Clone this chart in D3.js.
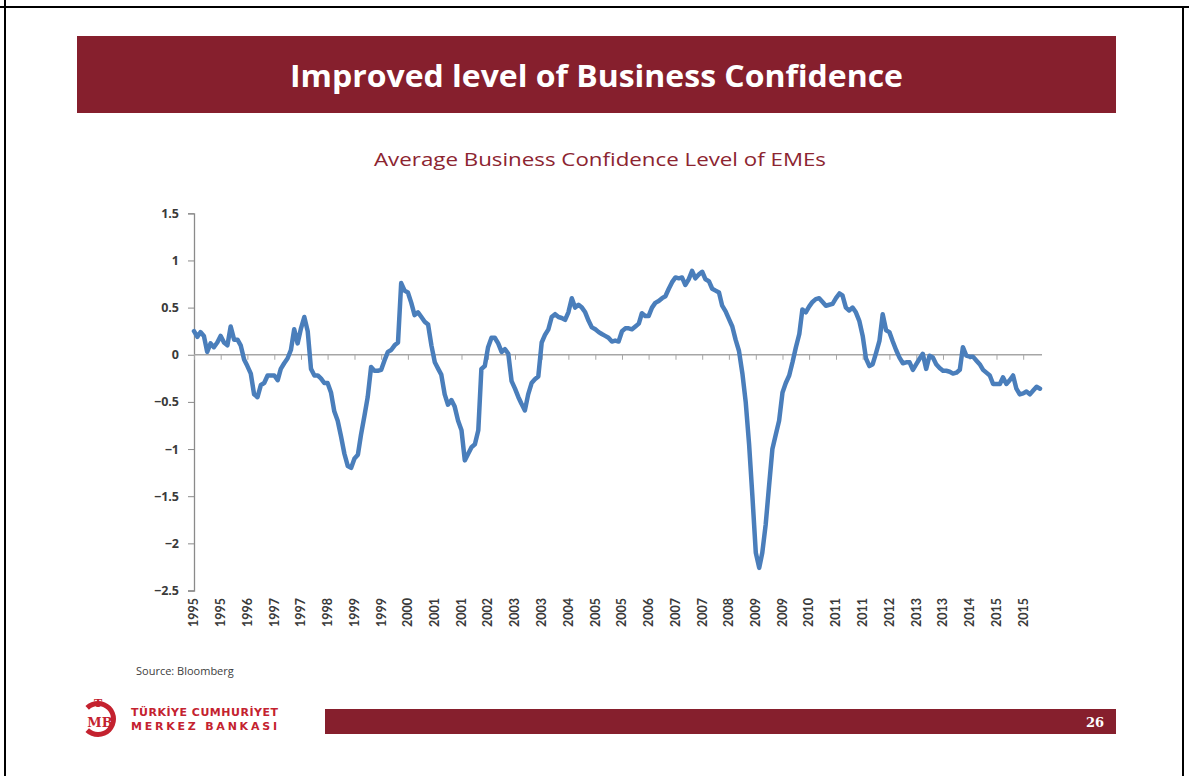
<html>
<head>
<meta charset="utf-8">
<title>Improved level of Business Confidence</title>
<script src="https://d3js.org/d3.v7.min.js"></script>
<style>
body { margin:0; background:#fff; }
text { font-family: Lato, "Open Sans", sans-serif; }
</style>
</head>
<body>
<div id="slide"></div>
<script>
// monthly values, Jan 1995 onwards
var firstMonth = [1995, 0];
var bc1995_1998 = [
  0.25, 0.19, 0.24, 0.2, 0.03, 0.12, 0.08, 0.13, 0.2, 0.13, 0.1, 0.3,
  0.16, 0.16, 0.1, -0.05, -0.12, -0.2, -0.42, -0.45, -0.32, -0.3, -0.22, -0.22,
  -0.22, -0.27, -0.15, -0.09, -0.04, 0.05, 0.27, 0.12, 0.28, 0.4, 0.25, -0.15,
  -0.22, -0.22, -0.25, -0.3, -0.3, -0.4, -0.6, -0.7, -0.87, -1.05, -1.18, -1.2
];
var bc1999_2002 = [
  -1.1, -1.06, -0.85, -0.65, -0.45, -0.13, -0.17, -0.17, -0.16, -0.06, 0.03, 0.05,
  0.1, 0.13, 0.76, 0.68, 0.66, 0.55, 0.42, 0.45, 0.4, 0.35, 0.32, 0.1,
  -0.08, -0.15, -0.21, -0.42, -0.53, -0.48, -0.55, -0.7, -0.8, -1.12, -1.05, -0.98,
  -0.95, -0.8, -0.15, -0.12, 0.08, 0.18, 0.18, 0.12, 0.03, 0.06, 0.01, -0.28
];
var bc2003_2006 = [
  -0.36, -0.45, -0.52, -0.59, -0.42, -0.3, -0.26, -0.23, 0.13, 0.21, 0.27, 0.4,
  0.43, 0.4, 0.39, 0.37, 0.45, 0.6, 0.5, 0.53, 0.5, 0.45, 0.36, 0.29,
  0.27, 0.24, 0.22, 0.2, 0.18, 0.14, 0.15, 0.14, 0.25, 0.28, 0.28, 0.27,
  0.3, 0.33, 0.44, 0.41, 0.41, 0.5, 0.55, 0.57, 0.6, 0.62, 0.7, 0.77
];
var bc2007_2010 = [
  0.82, 0.81, 0.82, 0.74, 0.8, 0.89, 0.81, 0.85, 0.88, 0.8, 0.78, 0.7,
  0.68, 0.66, 0.52, 0.46, 0.38, 0.3, 0.16, 0.04, -0.2, -0.5, -0.95, -1.5,
  -2.1, -2.26, -2.1, -1.8, -1.4, -1.0, -0.85, -0.7, -0.4, -0.3, -0.22, -0.08,
  0.08, 0.22, 0.48, 0.45, 0.51, 0.56, 0.59, 0.6, 0.56, 0.52, 0.53, 0.54
];
var bc2011_2016 = [
  0.6, 0.65, 0.63, 0.5, 0.47, 0.5, 0.45, 0.36, 0.2, -0.04, -0.12, -0.1,
  0.02, 0.15, 0.43, 0.26, 0.24, 0.14, 0.05, -0.03, -0.09, -0.08, -0.08, -0.16,
  -0.1, -0.04, 0.01, -0.15, -0.01, -0.03, -0.1, -0.14, -0.17, -0.17, -0.18, -0.2,
  -0.19, -0.16, 0.08, -0.01, -0.02, -0.02, -0.06, -0.1, -0.16, -0.19, -0.22, -0.31,
  -0.31, -0.31, -0.24, -0.31, -0.27, -0.22, -0.36, -0.42, -0.41, -0.39, -0.42, -0.38,
  -0.34, -0.36
];
var yTicks = [1.5, 1, 0.5, 0, -0.5, -1, -1.5, -2, -2.5];
var labelEvery = 8; // months between x labels

var values = bc1995_1998.concat(bc1999_2002, bc2003_2006, bc2007_2010, bc2011_2016);
var data = values.map(function(v, i) {
  return { date: new Date(firstMonth[0], firstMonth[1] + i, 1), value: v };
});

var width = 1189, height = 776;
var maroon = "#861f2d";

var svg = d3.select("#slide").append("svg")
    .attr("width", width)
    .attr("height", height);

// page frame
svg.append("line").attr("x1", 0).attr("x2", width).attr("y1", 7).attr("y2", 7)
    .attr("stroke", "#000").attr("stroke-width", 2);
svg.append("line").attr("x1", 5).attr("x2", 5).attr("y1", 0).attr("y2", height)
    .attr("stroke", "#000").attr("stroke-width", 2);
svg.append("line").attr("x1", 1183).attr("x2", 1183).attr("y1", 7).attr("y2", height)
    .attr("stroke", "#000").attr("stroke-width", 2);

// title bar
svg.append("rect").attr("x", 77).attr("y", 36).attr("width", 1039).attr("height", 77)
    .attr("fill", maroon);
svg.append("text")
    .attr("x", 290).attr("y", 87)
    .attr("fill", "#fff")
    .attr("font-weight", 700)
    .attr("textLength", 613)
    .attr("lengthAdjust", "spacingAndGlyphs")
    .style("font-family", "'Open Sans', sans-serif")
    .style("font-size", "30px")
    .text("Improved level of Business Confidence");

svg.append("text")
    .attr("x", 374).attr("y", 166)
    .attr("fill", "#8c2430")
    .attr("textLength", 452)
    .attr("lengthAdjust", "spacingAndGlyphs")
    .style("font-family", "'Open Sans', sans-serif")
    .style("font-size", "18px")
    .text("Average Business Confidence Level of EMEs");

// chart
var x = d3.scaleTime()
    .domain([data[0].date, data[data.length - 1].date])
    .range([194, 1040]);
var y = d3.scaleLinear().domain([-2.5, 1.5]).range([590.5, 213.3]);

var xTickDates = d3.range(0, values.length, labelEvery).map(function(i) {
  return new Date(firstMonth[0], firstMonth[1] + i, 1);
});

var gy = svg.append("g").attr("transform", "translate(194,0)")
    .call(d3.axisLeft(y).tickValues(yTicks).tickSize(6).tickPadding(9)
      .tickFormat(function(d) { return d3.format("")(d); }));
gy.select(".domain").attr("stroke", "#8a8a8a").attr("stroke-width", 1.3);
gy.selectAll(".tick line").attr("stroke", "#8a8a8a");
gy.selectAll(".tick text")
    .attr("fill", "#3a3a3a")
    .attr("font-weight", 700)
    .style("font-size", "12.5px")
    .style("font-family", "'Open Sans', sans-serif");

var gx = svg.append("g").attr("transform", "translate(0," + y(0) + ")")
    .call(d3.axisBottom(x).tickValues(xTickDates).tickSize(5).tickSizeOuter(0)
      .tickFormat(""));
gx.select(".domain").attr("stroke", "#a6a6a6").attr("stroke-width", 1.5)
    .attr("d", "M194,0H1042");
gx.selectAll(".tick line").attr("stroke", "#a6a6a6");

// x labels sit at the bottom of the plot, like excel "low" labels
svg.append("g").selectAll("text")
    .data(xTickDates)
    .enter().append("text")
    .attr("transform", function(d) { return "translate(" + x(d) + ",598)rotate(-90)"; })
    .attr("dy", "0.35em")
    .attr("text-anchor", "end")
    .attr("fill", "#3a3a3a")
    .attr("font-weight", 700)
    .style("font-size", "12.5px")
    .text(function(d) { return d3.timeFormat("%Y")(d); });

var line = d3.line()
    .x(function(d) { return x(d.date); })
    .y(function(d) { return y(d.value); });

svg.append("path")
    .datum(data)
    .attr("d", line)
    .attr("fill", "none")
    .attr("stroke", "#4a7ebb")
    .attr("stroke-width", 4.5)
    .attr("stroke-linejoin", "round")
    .attr("stroke-linecap", "round");

svg.append("text")
    .attr("x", 136).attr("y", 675)
    .attr("fill", "#404040")
    .style("font-family", "'Open Sans', sans-serif")
    .style("font-size", "11px")
    .text("Source: Bloomberg");

// footer: bank logo and page bar
var logo = svg.append("g").attr("fill", "#c4222f");
logo.append("path")
    .attr("d", d3.arc()({ innerRadius: 13, outerRadius: 18, startAngle: 0.8, endAngle: 2 * Math.PI - 0.8 }))
    .attr("transform", "translate(98,719)rotate(-90)");
logo.append("text").attr("x", 98).attr("y", 707)
    .attr("text-anchor", "middle")
    .style("font-family", "'DejaVu Serif', serif").style("font-size", "11px").attr("font-weight", 700)
    .text("T");
logo.append("text").attr("x", 100).attr("y", 727)
    .attr("text-anchor", "middle")
    .style("font-family", "'DejaVu Serif', serif").style("font-size", "13px").attr("font-weight", 700)
    .text("MB");
logo.append("text").attr("x", 131).attr("y", 716)
    .attr("font-weight", 700)
    .style("font-family", "'DejaVu Sans', sans-serif").style("font-size", "11px")
    .attr("textLength", 147)
    .text("TÜRKİYE CUMHURİYET");
logo.append("text").attr("x", 131).attr("y", 730)
    .attr("font-weight", 700)
    .style("font-family", "'DejaVu Sans', sans-serif").style("font-size", "11px")
    .attr("textLength", 146)
    .text("MERKEZ BANKASI");

svg.append("rect").attr("x", 325).attr("y", 709).attr("width", 791).attr("height", 25)
    .attr("fill", maroon);
svg.append("text")
    .attr("x", 1104).attr("y", 727)
    .attr("text-anchor", "end")
    .attr("fill", "#fff")
    .attr("font-weight", 700)
    .style("font-family", "'DejaVu Serif', serif")
    .style("font-size", "13px")
    .text("26");
</script>
</body>
</html>
